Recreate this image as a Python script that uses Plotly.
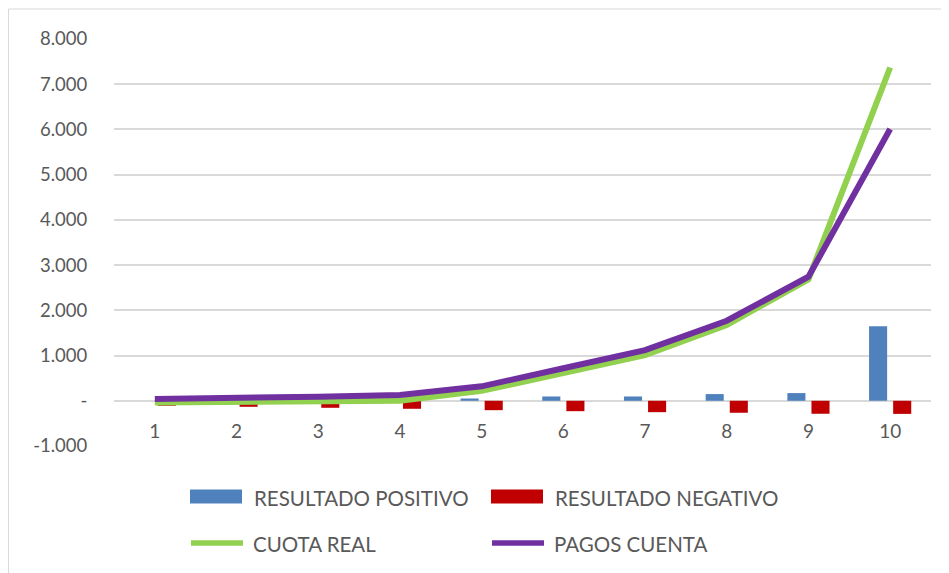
import plotly.graph_objects as go

categories = ["1", "2", "3", "4", "5", "6", "7", "8", "9", "10"]
resultado_positivo = [0, 0, 0, 0, 50, 95, 95, 148, 170, 1650]
resultado_negativo = [-110, -133, -155, -177, -208, -230, -252, -265, -287, -290]
cuota_real = [-37, -30, -20, 0, 220, 605, 1010, 1675, 2686, 7370]
pagos_cuenta = [40, 55, 90, 126, 320, 720, 1120, 1770, 2743, 6010]

series_names = ["RESULTADO POSITIVO", "RESULTADO NEGATIVO", "CUOTA REAL", "PAGOS CUENTA"]
series_colors = ["#4F81BD", "#C00000", "#92D050", "#7030A0"]

y_tickvals = [-1000, 0, 1000, 2000, 3000, 4000, 5000, 6000, 7000, 8000]
y_ticktext = ["-1.000", "-", "1.000", "2.000", "3.000", "4.000", "5.000", "6.000", "7.000", "8.000"]

FONT = "Lato"
TXT = "#595959"
GRID = "#D9D9D9"

fig = go.Figure()
fig.add_trace(go.Bar(x=categories, y=resultado_positivo, name=series_names[0],
                     marker=dict(color=series_colors[0], line=dict(width=0))))
fig.add_trace(go.Bar(x=categories, y=resultado_negativo, name=series_names[1],
                     marker=dict(color=series_colors[1], line=dict(width=0))))
fig.add_trace(go.Scatter(x=categories, y=cuota_real, name=series_names[2], mode="lines",
                         line=dict(color=series_colors[2], width=6)))
fig.add_trace(go.Scatter(x=categories, y=pagos_cuenta, name=series_names[3], mode="lines",
                         line=dict(color=series_colors[3], width=6)))

# page has an 8px body margin; figure is sized so the page matches the reference
OFF = 8
W, H = 941, 565
L, R, T, B = 106, 18, 31, 127
pw = W - L - R
ph = H - T - B


def px_x(p):
    return (p - OFF - L) / pw


def px_y(p):
    return (H - B - (p - OFF)) / ph


zero_frac = 1000 / 9000

shapes = [dict(type="rect", xref="paper", yref="paper",
               x0=px_x(8.5), x1=px_x(1000), y0=px_y(640), y1=px_y(9),
               line=dict(color=GRID, width=1), fillcolor="rgba(0,0,0,0)", layer="below")]
annotations = []

# custom legend (Excel style swatches)
leg_items = [
    (0, "rect", 190, 496.5),
    (1, "rect", 491, 496.5),
    (2, "line", 189, 543),
    (3, "line", 490, 543),
]
for idx, kind, x0, yc in leg_items:
    if kind == "rect":
        shapes.append(dict(type="rect", xref="paper", yref="paper",
                           x0=px_x(x0), x1=px_x(x0 + 52), y0=px_y(yc + 7), y1=px_y(yc - 7),
                           line=dict(width=0), fillcolor=series_colors[idx]))
    else:
        shapes.append(dict(type="line", xref="paper", yref="paper",
                           x0=px_x(x0 + 2), x1=px_x(x0 + 54), y0=px_y(yc), y1=px_y(yc),
                           line=dict(color=series_colors[idx], width=5.5)))
    annotations.append(dict(xref="paper", yref="paper", x=px_x(x0 + 62), y=px_y(yc + 1),
                            xanchor="left", yanchor="middle", showarrow=False,
                            text=series_names[idx],
                            font=dict(family=FONT, size=20.5, color=TXT)))

fig.update_layout(
    width=W, height=H,
    margin=dict(l=L, r=R, t=T, b=B),
    paper_bgcolor="white", plot_bgcolor="white",
    barmode="group", bargap=0.41, bargroupgap=0.25,
    font=dict(family=FONT, color=TXT, size=19),
    showlegend=False,
    xaxis=dict(type="category", anchor="free", position=zero_frac,
               showgrid=False, showline=False, zeroline=False,
               ticks="outside", ticklen=13, tickcolor="rgba(0,0,0,0)",
               tickfont=dict(family=FONT, size=19, color=TXT)),
    yaxis=dict(range=[-1000, 8000], tickvals=y_tickvals, ticktext=y_ticktext,
               showgrid=True, gridcolor=GRID, gridwidth=1.5, zeroline=False,
               showline=False, ticks="outside", ticklen=22, tickcolor="rgba(0,0,0,0)",
               tickfont=dict(family=FONT, size=18.5, color=TXT)),
    shapes=shapes,
    annotations=annotations,
)

fig.write_html("out.html")
